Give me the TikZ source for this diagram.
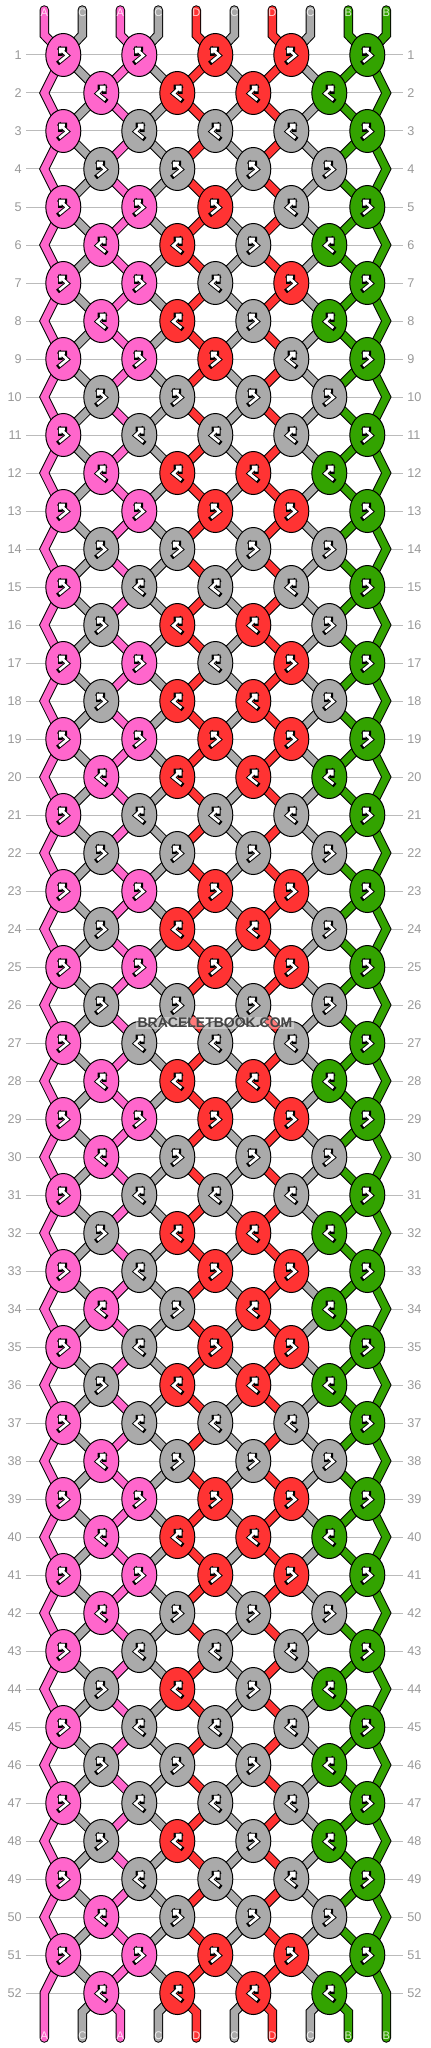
\documentclass[tikz,border=0pt]{standalone}
\usepackage{fontspec}
\setmainfont{Liberation Sans}
\usetikzlibrary{shapes.geometric}
\definecolor{pinkc}{HTML}{FF66CC}
\definecolor{grayc}{HTML}{AAAAAA}
\definecolor{redc}{HTML}{FF3333}
\definecolor{greenc}{HTML}{33A300}
\definecolor{numc}{HTML}{999999}
\definecolor{linec}{HTML}{BBBBBB}
\definecolor{markc}{HTML}{444444}
\pgfdeclarelayer{gridlayer}
\pgfdeclarelayer{strandlayer}
\pgfsetlayers{gridlayer,strandlayer,main}
\tikzset{
knot/.style={ellipse, draw=black, line width=0.75pt, inner sep=0pt, minimum width=26.25pt, minimum height=32.25pt},
strand/.style={draw=black, line width=0.75pt, double=#1, double distance=5.6pt},
gridline/.style={draw=linec, line width=0.75pt},
rowno/.style={text=numc, font=\fontsize{9.5}{11}\selectfont, inner sep=3pt},
endlabel/.style={text=#1!20!white, font=\fontsize{8.3}{9}\selectfont, inner sep=0pt},
iconout/.style={draw=black, line width=3.4pt, line cap=rect, line join=miter},
iconin/.style={draw=white, line width=2pt, line join=miter},
watermark/.style={text=markc, font=\bfseries\fontsize{10.5}{12}\selectfont, fill=white, fill opacity=0.35, text opacity=1, inner sep=1pt},
}
\tikzset{
pics/fbicon/.style={code={
  \draw[iconout] (-4,-7) -- (4,-0.5) -- (-3,6) (-3,1.5) -- (-3,6) -- (1.5,6);
  \draw[iconin] (-4,-7) -- (4,-0.5) -- (-3,6) (-3,1.5) -- (-3,6) -- (1.5,6);
}},
pics/bficon/.style={code={
  \draw[iconout] (4,-7) -- (-4,-0.5) -- (3,6) (3,1.5) -- (3,6) -- (-1.5,6);
  \draw[iconin] (4,-7) -- (-4,-0.5) -- (3,6) (3,1.5) -- (3,6) -- (-1.5,6);
}},
}
\begin{document}
\begin{tikzpicture}[x=0.75pt,y=0.75pt,yscale=-1,xscale=1]
\useasboundingbox (0,0) rectangle (430,2048);
\begin{pgfonlayer}{gridlayer}
\fill[white] (0,0) rectangle (430,2048);
%Row lines and numbers
\foreach \r in {1,...,52}{
  \node[rowno, anchor=east] (nl-\r) at (26,{55+38*(\r-1)}) {\r};
  \node[rowno, anchor=west] (nr-\r) at (403,{55+38*(\r-1)}) {\r};
  \draw[gridline] (nl-\r.east) -- (nr-\r.west);
}
\end{pgfonlayer}
%Knots, odd rows
\foreach \r/\a/\b/\c/\d/\e in {1/1/1/1/1/1, 3/1/0/0/0/1, 5/1/1/1/0/1, 7/1/1/0/1/1, 9/1/1/1/0/1, 11/1/0/0/0/1, 13/1/1/1/1/1, 15/1/0/0/0/1, 17/1/1/0/1/1, 19/1/1/1/1/1, 21/1/0/0/0/1, 23/1/1/1/1/1, 25/1/1/1/1/1, 27/1/0/0/0/1, 29/1/1/1/1/1, 31/1/0/0/0/1, 33/1/0/1/1/1, 35/1/0/1/1/1, 37/1/0/0/0/1, 39/1/1/1/1/1, 41/1/1/1/1/1, 43/1/0/0/0/1, 45/1/0/0/0/1, 47/1/0/0/0/1, 49/1/0/0/0/1, 51/1/1/1/1/1}{
  \foreach \v [count=\i] in {\a,\b,\c,\d,\e}{
    \ifcase\i\or\def\kc{pinkc}\or\def\kc{pinkc}\or\def\kc{redc}\or\def\kc{redc}\or\def\kc{greenc}\fi
    \ifnum\v=0 \def\kc{grayc}\fi
    \node[knot, fill=\kc] (k-\r-\i) at ({63.3+76*(\i-1)},{55+38*(\r-1)}) {};
    \ifnum\v=1 \pic at (k-\r-\i) {fbicon};\else\pic at (k-\r-\i) {bficon};\fi
  }
}
%Knots, even rows
\foreach \r/\a/\b/\c/\d in {2/1/1/1/1, 4/0/0/0/0, 6/1/1/0/1, 8/1/1/0/1, 10/0/0/0/0, 12/1/1/1/1, 14/0/0/0/0, 16/0/1/1/0, 18/0/1/1/0, 20/1/1/1/1, 22/0/0/0/0, 24/0/1/1/0, 26/0/0/0/0, 28/1/1/1/1, 30/1/0/0/0, 32/0/1/1/1, 34/1/0/1/1, 36/0/1/1/1, 38/1/0/0/0, 40/1/1/1/1, 42/1/0/0/0, 44/0/1/0/1, 46/0/0/0/1, 48/0/1/0/1, 50/1/0/0/0, 52/1/1/1/1}{
  \coordinate (el-\r) at (44.3,{55+38*(\r-1)});
  \coordinate (er-\r) at (386.3,{55+38*(\r-1)});
  \foreach \v [count=\i] in {\a,\b,\c,\d}{
    \ifcase\i\or\def\kc{pinkc}\or\def\kc{redc}\or\def\kc{redc}\or\def\kc{greenc}\fi
    \ifnum\v=0 \def\kc{grayc}\fi
    \node[knot, fill=\kc] (k-\r-\i) at ({101.3+76*(\i-1)},{55+38*(\r-1)}) {};
    \ifnum\v=0 \pic at (k-\r-\i) {fbicon};\else\pic at (k-\r-\i) {bficon};\fi
  }
}
\begin{pgfonlayer}{strandlayer}
%Straight Lines, odd to even
\foreach \r [evaluate=\r as \n using int(\r+1)] in {1,3,...,51}{
  \foreach \i in {1,...,4}
    \draw[strand=grayc] (k-\r-\i.center) -- (k-\n-\i.center);
  \foreach \i/\j/\col in {2/1/pinkc, 3/2/redc, 4/3/redc, 5/4/greenc}
    \draw[strand=\col] (k-\r-\i.center) -- (k-\n-\j.center);
}
%Straight Lines, even to odd
\foreach \r [evaluate=\r as \n using int(\r+1)] in {2,4,...,50}{
  \foreach \j in {1,...,4}
    \draw[strand=grayc] (k-\r-\j.center) -- (k-\n-\j.center);
  \foreach \j/\i/\col in {1/2/pinkc, 2/3/redc, 3/4/redc, 4/5/greenc}
    \draw[strand=\col] (k-\r-\j.center) -- (k-\n-\i.center);
}
%Edge strands
\foreach \r [evaluate=\r as \p using int(\r-1), evaluate=\r as \n using int(\r+1)] in {2,4,...,50}{
  \draw[strand=pinkc] (k-\p-1.center) -- (el-\r) -- (k-\n-1.center);
  \draw[strand=greenc] (k-\p-5.center) -- (er-\r) -- (k-\n-5.center);
}
%Top ends
\foreach \p/\col/\lab/\kn in {1/pinkc/A/1, 2/grayc/C/1, 3/pinkc/A/2, 4/grayc/C/2, 5/redc/D/3, 6/grayc/C/3, 7/redc/D/4, 8/grayc/C/4, 9/greenc/B/5, 10/greenc/B/5}{
  \coordinate (t-\p) at ({44.3+38*(\p-1)},10);
  \coordinate (tb-\p) at ({44.3+38*(\p-1)},35);
  \draw[strand=\col, line cap=round] (t-\p) -- (tb-\p) -- (k-1-\kn.center);
}
%Bottom ends
\foreach \p/\col/\kn in {2/grayc/1, 3/pinkc/1, 4/grayc/2, 5/redc/2, 6/grayc/3, 7/redc/3, 8/grayc/4, 9/greenc/4}{
  \coordinate (bb-\p) at ({44.3+38*(\p-1)},2012);
  \coordinate (b-\p) at ({44.3+38*(\p-1)},2038);
  \draw[strand=\col, line cap=round] (k-52-\kn.center) -- (bb-\p) -- (b-\p);
}
\coordinate (b-1) at (44.3,2038);
\coordinate (b-10) at (386.3,2038);
\draw[strand=pinkc, line cap=round] (k-51-1.center) -- (el-52) -- (b-1);
\draw[strand=greenc, line cap=round] (k-51-5.center) -- (er-52) -- (b-10);
\end{pgfonlayer}
%End labels
\foreach \p/\col/\lab in {1/pinkc/A, 2/grayc/C, 3/pinkc/A, 4/grayc/C, 5/redc/D, 6/grayc/C, 7/redc/D, 8/grayc/C, 9/greenc/B, 10/greenc/B}{
  \node[endlabel=\col] (lt-\p) at (t-\p) [yshift=-2pt] {\lab};
  \node[endlabel=\col] (lb-\p) at (b-\p) [yshift=2pt] {\lab};
}
\node[watermark] (wm) at (215,1023) {BRACELETBOOK.COM};
\end{tikzpicture}
\end{document}
